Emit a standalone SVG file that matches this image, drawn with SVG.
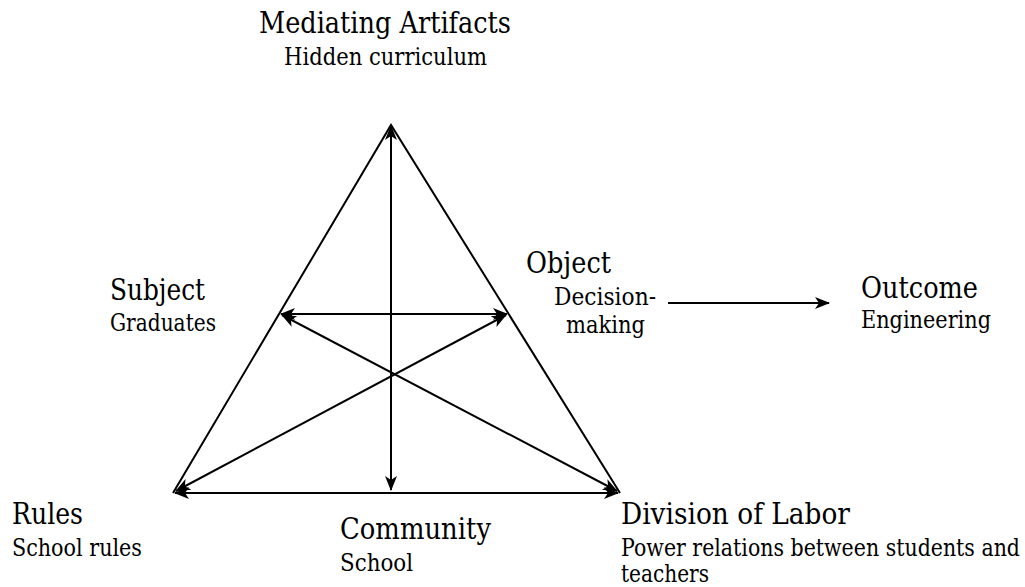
<svg xmlns="http://www.w3.org/2000/svg" width="1025" height="587" viewBox="0 0 1025 587">
  <style>
    text { font-family: "DejaVu Serif", "Liberation Serif", serif; fill: #000; }
    .title { font-size: 29px; }
    .sub { font-size: 24px; }
    .edge { fill: none; stroke: #000; stroke-width: 2; }
    .arrow { fill: none; stroke: #000; stroke-width: 2; marker-end: url(#head); }
    .both { fill: none; stroke: #000; stroke-width: 2; marker-start: url(#head); marker-end: url(#head); }
  </style>
  <defs>
    <marker id="head" markerUnits="userSpaceOnUse" markerWidth="16" markerHeight="14" refX="14" refY="6.5" orient="auto-start-reverse" viewBox="0 0 16 14">
      <path d="M0,0.5 L15,6.5 L0,12.5 L4,6.5 Z" fill="#000"/>
    </marker>
  </defs>
  <rect width="1025" height="587" fill="#fff"/>

  <!-- triangle outline and internal relations -->
  <g id="connectors">
    <polyline class="edge" points="173,493 391,125 620,493"/>
    <line class="both" x1="175" y1="493" x2="618" y2="493"/>
    <line class="both" x1="391" y1="126" x2="391" y2="490"/>
    <line class="both" x1="281" y1="314" x2="507" y2="314"/>
    <line class="both" x1="282" y1="315" x2="617" y2="491"/>
    <line class="both" x1="176" y1="491" x2="506" y2="315"/>
    <line class="arrow" x1="668" y1="303" x2="829" y2="303"/>
  </g>

  <g id="mediating-artifacts">
    <text class="title" x="259" y="33" textLength="252" lengthAdjust="spacingAndGlyphs">Mediating Artifacts</text>
    <text class="sub" x="284" y="65" textLength="203" lengthAdjust="spacingAndGlyphs">Hidden curriculum</text>
  </g>

  <g id="subject">
    <text class="title" x="110" y="300" textLength="95" lengthAdjust="spacingAndGlyphs">Subject</text>
    <text class="sub" x="110" y="331" textLength="106" lengthAdjust="spacingAndGlyphs">Graduates</text>
  </g>

  <g id="object">
    <text class="title" x="526" y="273" textLength="85" lengthAdjust="spacingAndGlyphs">Object</text>
    <text class="sub" x="554" y="305" textLength="102" lengthAdjust="spacingAndGlyphs">Decision-</text>
    <text class="sub" x="566" y="333" textLength="79" lengthAdjust="spacingAndGlyphs">making</text>
  </g>

  <g id="outcome">
    <text class="title" x="861" y="298" textLength="117" lengthAdjust="spacingAndGlyphs">Outcome</text>
    <text class="sub" x="861" y="328" textLength="130" lengthAdjust="spacingAndGlyphs">Engineering</text>
  </g>

  <g id="rules">
    <text class="title" x="12" y="524" textLength="71" lengthAdjust="spacingAndGlyphs">Rules</text>
    <text class="sub" x="12" y="556" textLength="130" lengthAdjust="spacingAndGlyphs">School rules</text>
  </g>

  <g id="community">
    <text class="title" x="340" y="539" textLength="151" lengthAdjust="spacingAndGlyphs">Community</text>
    <text class="sub" x="340" y="571" textLength="73" lengthAdjust="spacingAndGlyphs">School</text>
  </g>

  <g id="division-of-labor">
    <text class="title" x="621" y="524" textLength="229" lengthAdjust="spacingAndGlyphs">Division of Labor</text>
    <text class="sub" x="621" y="556" textLength="399" lengthAdjust="spacingAndGlyphs">Power relations between students and</text>
    <text class="sub" x="621" y="582" textLength="88" lengthAdjust="spacingAndGlyphs">teachers</text>
  </g>
</svg>
